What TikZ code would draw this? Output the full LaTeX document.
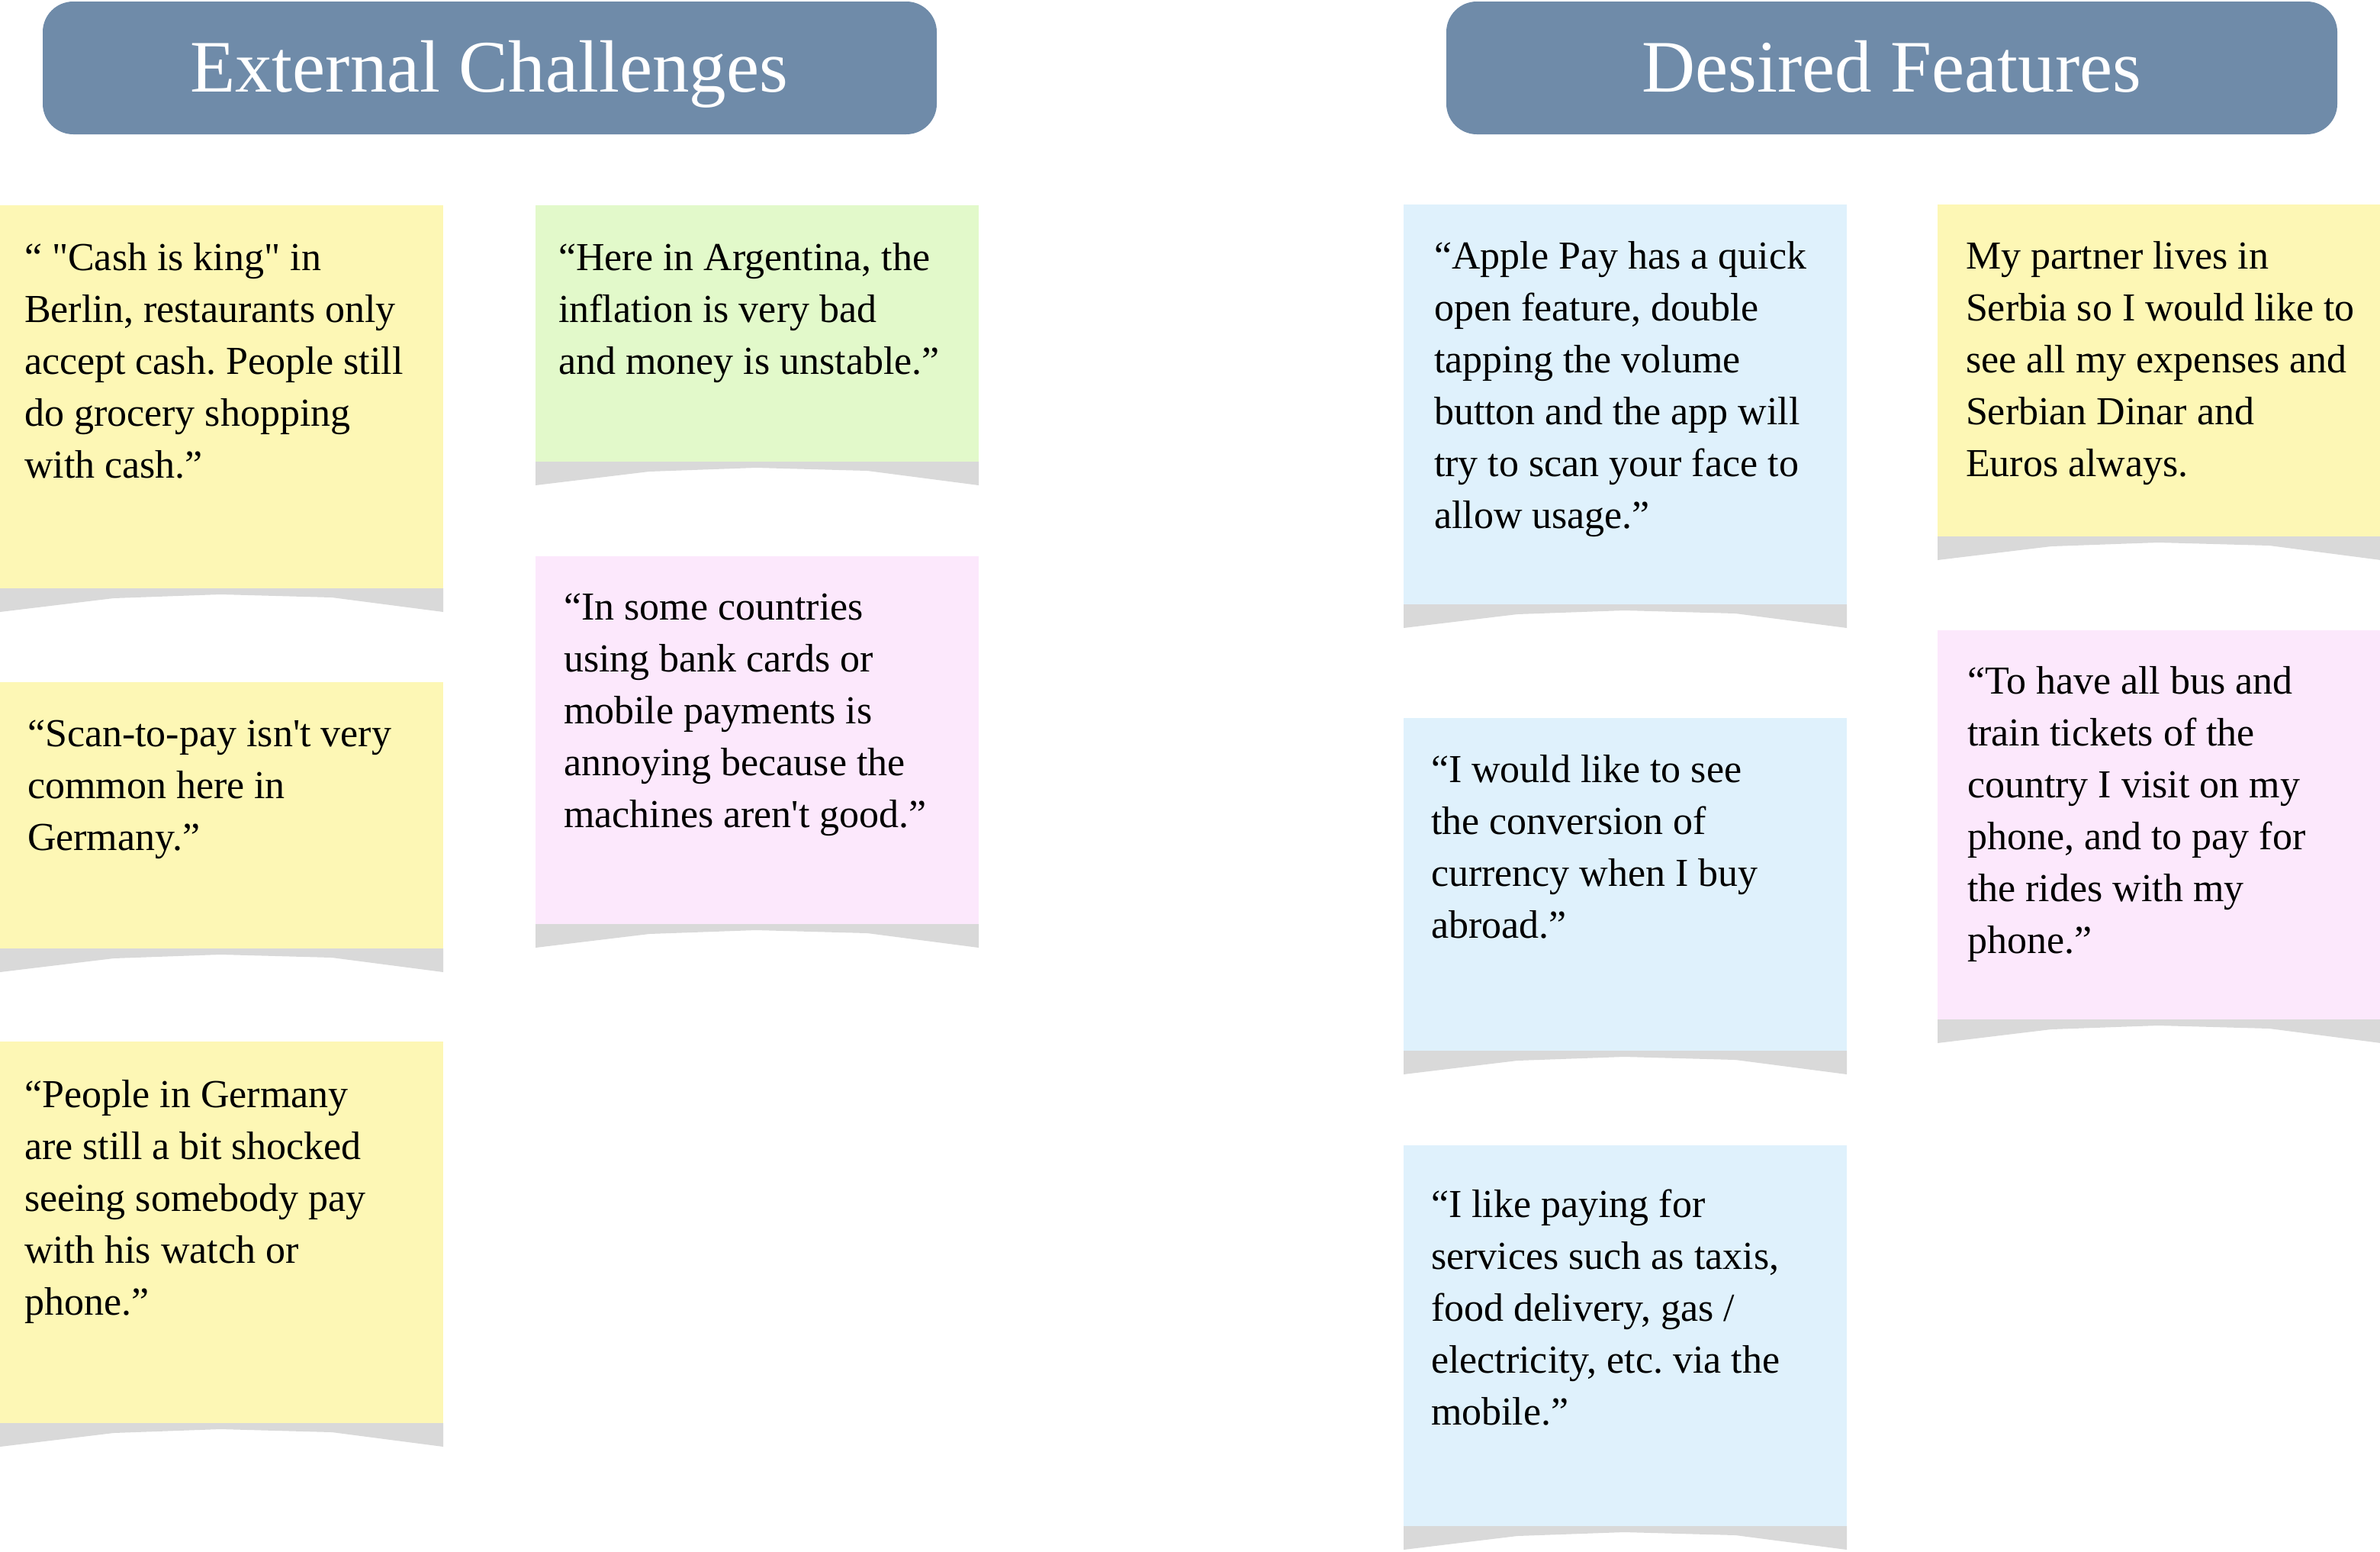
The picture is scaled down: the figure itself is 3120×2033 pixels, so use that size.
\documentclass[tikz,border=0pt]{standalone}
\usepackage{fontspec}
\setmainfont{Liberation Serif}
\frenchspacing
\definecolor{headblue}{RGB}{111,139,169}
\definecolor{noteyellow}{RGB}{253,247,181}
\definecolor{notegreen}{RGB}{226,249,202}
\definecolor{notepink}{RGB}{252,232,252}
\definecolor{noteblue}{RGB}{223,241,252}
\definecolor{shadowgray}{RGB}{217,217,217}
\tikzset{
  headerbox/.style={fill=headblue, rounded corners=40bp, inner sep=0pt, outer sep=0pt, minimum height=174bp, anchor=north west},
  headtext/.style={text=white, inner sep=0pt, anchor=base, font=\fontsize{97bp}{100bp}\selectfont},
  notebox/.style={inner sep=0pt, outer sep=0pt, minimum width=581bp, anchor=north west},
  notetext/.style={inner sep=0pt, outer sep=0pt, anchor=base west, text=black},
  notefold/.style={fill=shadowgray}
}
% #1 name, #2 x, #3 y, #4 height, #5 colour, #6 text x, #7 text baseline y, #8 text
\newcommand\stickynote[8]{%
  \node[notebox, fill=#5, minimum height=#4bp] (#1) at (#2,#3) {};
  \fill[notefold] (#1.south west) -- (#1.south east) -- ++(0,31) -- ++(-146,-19) -- ++(-146,-4) -- ++(-140,5) -- ++(-149,18) -- cycle;
  \node[notetext] (#1t) at (#6,#7) {\parbox[t]{570bp}{\fontsize{52bp}{68bp}\selectfont #8}};
}
\begin{document}
\begin{tikzpicture}[x=1bp,y=-1bp]
\useasboundingbox (0,0) rectangle (3120,2033);
% headers
\node[headerbox, minimum width=1172bp] (h1) at (56,2) {};
\node[headtext] (h1t) at (641,120) {External Challenges};
\node[headerbox, minimum width=1168bp] (h2) at (1896,2) {};
\node[headtext] (h2t) at (2480,120) {Desired Features};
% column 1
\stickynote{n1}{0}{269}{502}{noteyellow}{32}{354}{“ \textquotedbl Cash is king\textquotedbl{} in\\Berlin, restaurants only\\accept cash. People still\\do grocery shopping\\with cash.”}
\stickynote{n2}{0}{894}{349}{noteyellow}{36}{978}{“Scan-to-pay isn\textquotesingle t very\\common here in\\Germany.”}
\stickynote{n3}{0}{1365}{500}{noteyellow}{32}{1451}{“People in Germany\\are still a bit shocked\\seeing somebody pay\\with his watch or\\phone.”}
% column 2
\stickynote{n4}{702}{269}{336}{notegreen}{732}{354}{“Here in Argentina, the\\inflation is very bad\\and money is unstable.”}
\stickynote{n5}{702}{729}{482}{notepink}{739}{812}{“In some countries\\using bank cards or\\mobile payments is\\annoying because the\\machines aren\textquotesingle t good.”}
% column 3
\stickynote{n6}{1840}{268}{524}{noteblue}{1880}{352}{“Apple Pay has a quick\\open feature, double\\tapping the volume\\button and the app will\\try to scan your face to\\allow usage.”}
\stickynote{n7}{1840}{941}{436}{noteblue}{1876}{1025}{“I would like to see\\the conversion of\\currency when I buy\\abroad.”}
\stickynote{n8}{1840}{1501}{499}{noteblue}{1876}{1595}{“I like paying for\\services such as taxis,\\food delivery, gas /\\electricity, etc. via the\\mobile.”}
% column 4
\stickynote{n9}{2540}{268}{435}{noteyellow}{2577}{352}{My partner lives in\\Serbia so I would like to\\see all my expenses and\\Serbian Dinar and\\Euros always.}
\stickynote{n10}{2540}{826}{510}{notepink}{2579}{909}{“To have all bus and\\train tickets of the\\country I visit on my\\phone, and to pay for\\the rides with my\\phone.”}
\end{tikzpicture}
\end{document}
